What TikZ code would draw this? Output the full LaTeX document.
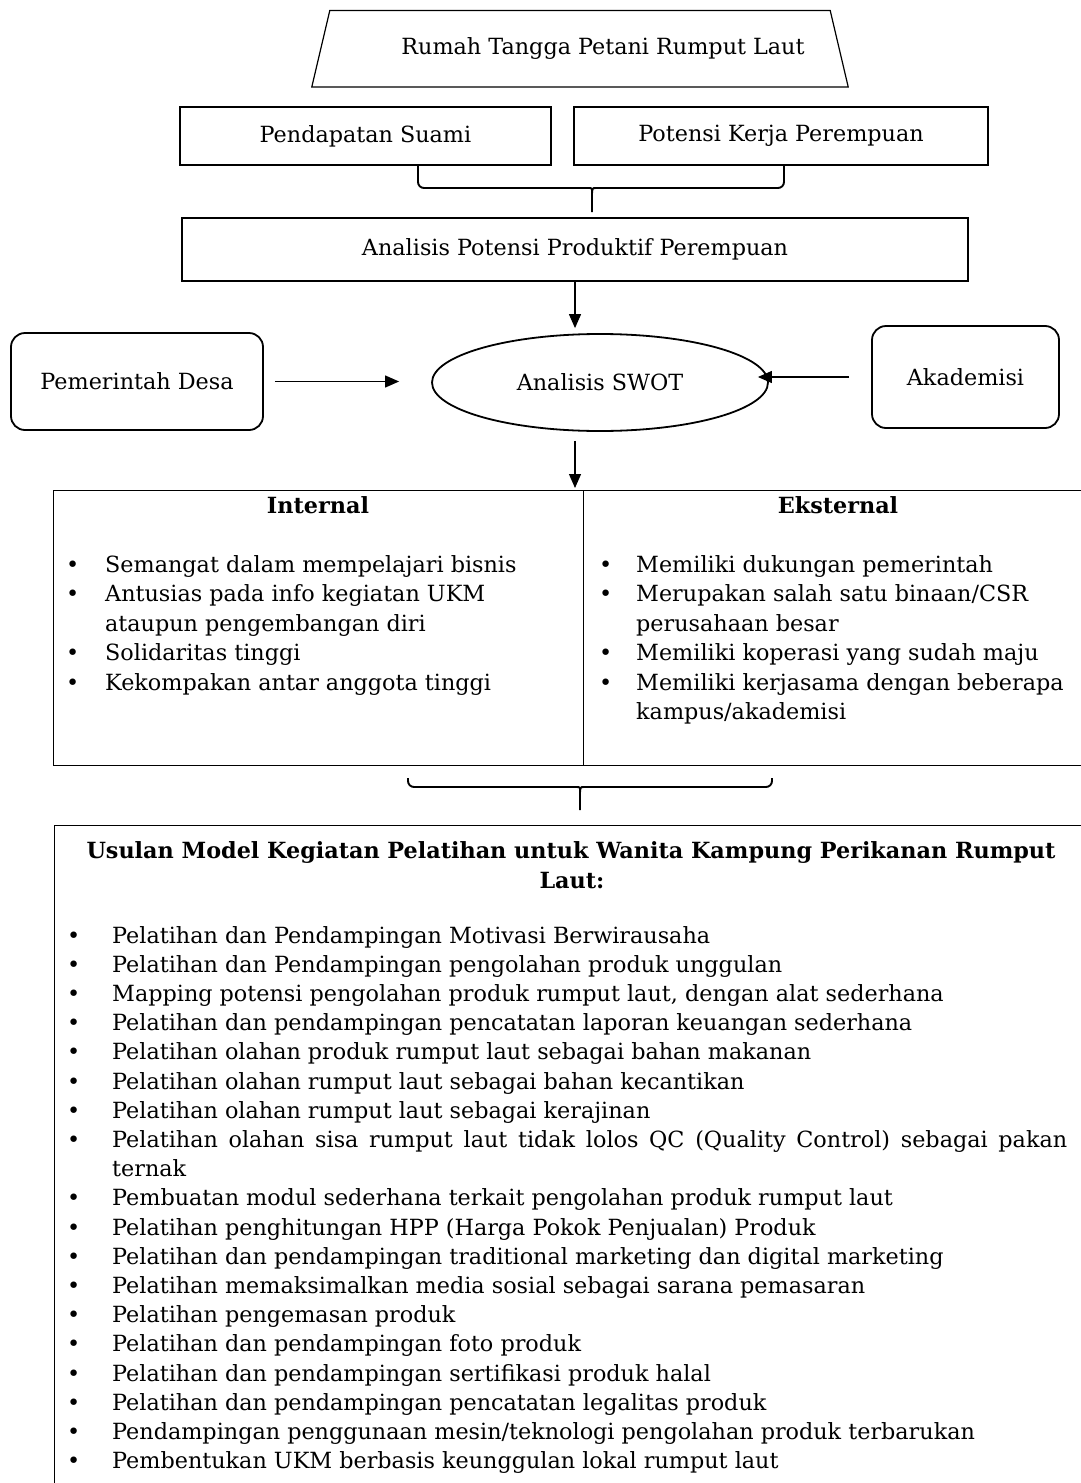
\documentclass[tikz,border=0pt]{standalone}
\usepackage{fontspec}
\setmainfont{DejaVu Serif}
\usepackage{tikz}
\usetikzlibrary{calc,positioning,shapes,arrows.meta}

\newcommand{\bul}[2]{\makebox[#2][l]{\ifnum#1=1 \textbullet\fi}}
\tikzset{
  box/.style={draw,line width=1.2pt,inner sep=0pt},
  rbox/.style={draw,line width=1.8pt,rounded corners=14pt},
  arr/.style={-{Triangle[length=14pt,width=12pt]},line width=1.2pt},
  brc/.style={line width=1.9pt,rounded corners=6pt},
  ln/.style={anchor=base west,inner sep=0pt},
  hdr/.style={anchor=base,inner sep=0pt,font=\bfseries\fontsize{22.3}{26}\selectfont},
}

\begin{document}
\begin{tikzpicture}[x=1pt,y=-1pt,font=\fontsize{22.3}{26}\selectfont]
\useasboundingbox (0,0) rectangle (1081,1483);
\clip (0,0) rectangle (1081,1483);
%%
\node (rumah) at (580,48.7) [inner sep=0pt,minimum width=500pt,minimum height=76pt] {\hspace*{46pt}Rumah Tangga Petani Rumput Laut};
  \draw [line width=1.2pt] (rumah.north west) -- (rumah.north east) -- ([xshift=18pt]rumah.south east) -- ([xshift=-18pt]rumah.south west) -- cycle;
  \node (suami) at (365.5,136) [box,minimum width=371pt,minimum height=58pt] {Pendapatan Suami};
  \node (potensi) at (781,136) [box,minimum width=414pt,minimum height=58pt] {Potensi Kerja Perempuan};
  \node (analisis) at (575,249.5) [box,minimum width=786pt,minimum height=63pt] {Analisis Potensi Produktif Perempuan};
  \node (desa) at (137,381.5) [rbox,minimum width=252pt,minimum height=97pt] {Pemerintah Desa};
  \node (swot) at (600,382.5) [draw,ellipse,line width=1.8pt,minimum width=336pt,minimum height=97pt] {Analisis SWOT};
  \node (akad) at (965.5,377) [rbox,minimum width=187pt,minimum height=102pt] {Akademisi};
  \node (intbox) at (53,490) [box,anchor=north west,minimum width=530pt,minimum height=275pt] {};
  \node (extbox) at (583,490) [box,anchor=north west,minimum width=510pt,minimum height=275pt] {};
  \node (usulan) at (54,825) [box,anchor=north west,minimum width=1036pt,minimum height=700pt] {};
%
  \draw [brc] ([xshift=52.5pt]suami.south) |- (582,188) .. controls (592,188) .. (592,198) -- (592,212);
  \draw [brc] ([xshift=3pt]potensi.south) |- (602,188) .. controls (592,188) .. (592,198);
  \draw [arr,shorten >=5pt] (analisis.south) -- (analisis.south |- swot.north);
  \draw [arr,shorten <=11pt,shorten >=32pt] (desa.east) -- (desa.east -| swot.west);
  \draw [arr,shorten <=22pt,shorten >=-11pt] (akad.west) -- (akad.west -| swot.east);
  \draw [arr,shorten <=9pt,shorten >=2pt] (analisis.south |- swot.south) -- (analisis.south |- intbox.north);
  \draw [brc] (408,778) |- (570,787) .. controls (580,787) .. (580,797) -- (580,810);
  \draw [brc] (772,778) |- (590,787) .. controls (580,787) .. (580,797);
%
  \node (inthdr) at (318,513) [hdr] {Internal};
  \node (exthdr) at (838,513) [hdr] {Eksternal};
  \foreach \b/\t [count=\i from 0] in {1/Semangat dalam mempelajari bisnis,1/Antusias pada info kegiatan UKM,0/ataupun pengembangan diri,1/Solidaritas tinggi,1/Kekompakan antar anggota tinggi}
    \node [ln] at (66,572+29.5*\i) {\bul{\b}{39pt}\t};
  \foreach \b/\t [count=\i from 0] in {1/Memiliki dukungan pemerintah,1/Merupakan salah satu binaan{/}CSR,0/perusahaan besar,1/Memiliki koperasi yang sudah maju,1/Memiliki kerjasama dengan beberapa,0/kampus{/}akademisi}
    \node [ln] at (599,572+29.5*\i) {\bul{\b}{37pt}\t};
%
  \node (judul1) at (571,858) [hdr] {Usulan Model Kegiatan Pelatihan untuk Wanita Kampung Perikanan Rumput};
  \node (judul2) at (572,888) [hdr] {Laut:};
  \foreach \b/\t [count=\i from 0] in {1/Pelatihan dan Pendampingan Motivasi Berwirausaha,
    1/Pelatihan dan Pendampingan pengolahan produk unggulan,
    1/Mapping potensi pengolahan produk rumput laut{,} dengan alat sederhana,
    1/Pelatihan dan pendampingan pencatatan laporan keuangan sederhana,
    1/Pelatihan olahan produk rumput laut sebagai bahan makanan,
    1/Pelatihan olahan rumput laut sebagai bahan kecantikan,
    1/Pelatihan olahan rumput laut sebagai kerajinan,
    1/{\makebox[955pt][s]{Pelatihan olahan sisa rumput laut tidak lolos QC (Quality Control) sebagai pakan}},
    0/ternak,
    1/Pembuatan modul sederhana terkait pengolahan produk rumput laut,
    1/Pelatihan penghitungan HPP (Harga Pokok Penjualan) Produk,
    1/Pelatihan dan pendampingan traditional marketing dan digital marketing,
    1/Pelatihan memaksimalkan media sosial sebagai sarana pemasaran,
    1/Pelatihan pengemasan produk,
    1/Pelatihan dan pendampingan foto produk,
    1/Pelatihan dan pendampingan sertifikasi produk halal,
    1/Pelatihan dan pendampingan pencatatan legalitas produk,
    1/Pendampingan penggunaan mesin{/}teknologi pengolahan produk terbarukan,
    1/Pembentukan UKM berbasis keunggulan lokal rumput laut}
    \node [ln] at (67,943+29.2*\i) {\bul{\b}{45pt}\t};
%
\end{tikzpicture}
\end{document}
